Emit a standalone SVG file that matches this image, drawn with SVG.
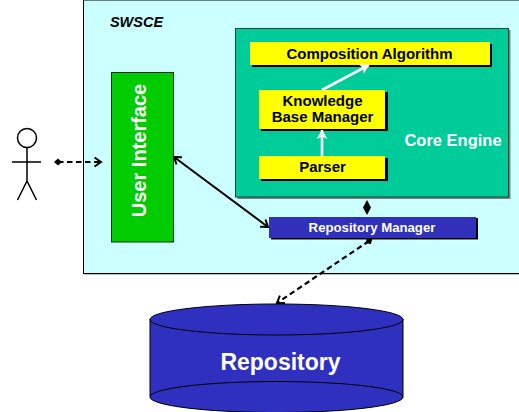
<svg xmlns="http://www.w3.org/2000/svg" width="519" height="412" viewBox="0 0 519 412">
<style>
text{font-family:"Liberation Sans",Arial,sans-serif;font-weight:bold;text-anchor:middle}
.y{fill:#ffff00}.s{fill:#000}.k{fill:#000;font-size:15px}.w{fill:#fff}
.ln{fill:none;stroke:#000;stroke-width:1.5}
.c{fill:none;stroke:#000;stroke-width:2}
.d{stroke-dasharray:5.500 3.500;stroke-width:2.200}
.wh{fill:none;stroke:#fff;stroke-width:2.600}
</style>
<defs>
<marker id="open" markerUnits="userSpaceOnUse" markerWidth="14" markerHeight="14" refX="10" refY="7" orient="auto-start-reverse"><path d="M3.500 2.500L10 7L3.500 11.500" fill="none" stroke="#000" stroke-width="2"/></marker>
<marker id="dia" markerUnits="userSpaceOnUse" markerWidth="10" markerHeight="10" refX="5" refY="5" orient="auto"><path d="M1 5L5 1.500L9 5L5 8.500Z" fill="#000"/></marker>
<marker id="whead" markerUnits="userSpaceOnUse" markerWidth="14" markerHeight="14" refX="11" refY="7" orient="auto"><path d="M2 1.500L11 7L2 12.500L4.500 7Z" fill="#fff"/></marker>
</defs>
<g id="swsce">
<rect x="84.500" y="1" width="440" height="273.500" fill="#808080"/>
<rect x="83.500" y="0" width="440" height="273.500" fill="#ccffff" stroke="#000" stroke-width="1"/>
<text x="136.500" y="27" font-size="14.500" font-style="italic" fill="#000">SWSCE</text>
</g>
<g id="core-engine">
<rect x="237.500" y="30" width="273" height="169" fill="#808080"/>
<rect x="235.500" y="28.500" width="273" height="168.500" fill="#00cc99" stroke="#004d39" stroke-width="1"/>
<text x="453" y="146" font-size="16.500" class="w">Core Engine</text>
</g>
<g id="composition-algorithm">
<rect x="252" y="44" width="240" height="23" class="s"/>
<rect x="250" y="42" width="240" height="23" class="y"/>
<text x="369.500" y="59" class="k">Composition Algorithm</text>
</g>
<g id="knowledge-base-manager">
<rect x="261" y="92" width="127" height="39" class="s"/>
<rect x="259" y="90" width="126" height="39" class="y"/>
<text x="322.500" y="106" class="k">Knowledge</text>
<text x="322.500" y="122" class="k">Base Manager</text>
</g>
<g id="parser">
<rect x="261" y="158" width="127" height="23" class="s"/>
<rect x="259" y="156" width="126" height="23" class="y"/>
<text x="322.500" y="172" class="k">Parser</text>
</g>
<g id="user-interface">
<rect x="111.500" y="72.500" width="62" height="169.500" fill="#00cc00" stroke="#003300" stroke-width="1"/>
<text transform="translate(146 150.500) rotate(-90)" font-size="20" class="w">User Interface</text>
</g>
<g id="repository-manager">
<rect x="271" y="219" width="207" height="21" fill="#808080"/>
<rect x="271" y="218" width="207" height="21" class="s"/>
<rect x="269" y="217" width="207" height="21" fill="#3030bb"/>
<text x="372" y="232" font-size="13.200" class="w">Repository Manager</text>
</g>
<g id="repository">
<path d="M150 319V396A126.500 16 0 0 0 403 396V319Z" fill="#3030c0" stroke="#000" stroke-width="1"/>
<ellipse cx="276.500" cy="319.500" rx="126.500" ry="15.500" fill="#3030c0" stroke="#000" stroke-width="1"/>
<ellipse cx="276.500" cy="397" rx="126.500" ry="15.500" fill="#3030c0" stroke="#000" stroke-width="1"/>
<text x="280.500" y="370" font-size="23" class="w">Repository</text>
</g>
<g id="actor" class="ln">
<circle cx="27" cy="138" r="9.500"/>
<path d="M27 148V181M12 162H41M27 181L17.500 200M27 181L36.500 200"/>
</g>
<g id="connectors">
<path class="c d" d="M58 162H101" marker-start="url(#dia)" marker-end="url(#open)"/>
<path class="c" d="M174 157L268 227" marker-start="url(#open)" marker-end="url(#open)"/>
<path d="M367 200L371 207.500L367 215L363 207.500Z" fill="#000"/>
<path class="c d" d="M369 241L277 303" marker-start="url(#dia)" marker-end="url(#open)"/>
<path class="wh" d="M322 156V130" marker-end="url(#whead)"/>
<path class="wh" d="M322 90L369 65" marker-end="url(#whead)"/>
</g>
</svg>
